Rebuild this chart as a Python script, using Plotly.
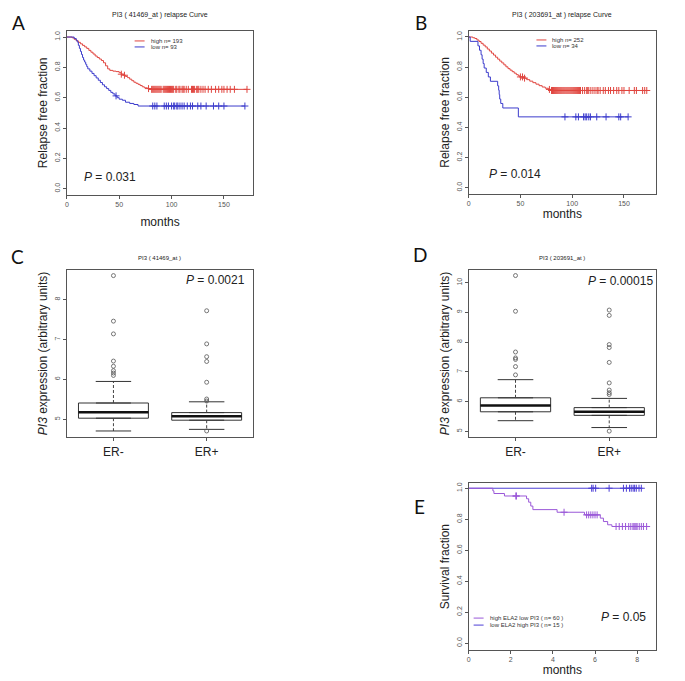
"""PI3 relapse / expression panels (A-E) rebuilt with Plotly."""

import plotly.graph_objects as go

# target picture is 685x681; the page body adds an 8px margin, so the figure is drawn
# 8px smaller and every target pixel is shifted by OFF
OFF = 8
W, H = 685 - OFF, 681 - OFF
FONT = "Liberation Sans, Arial, sans-serif"

# ---- A: PI3 (41469_at) relapse curve ----
a_high_t = [0, 5, 7, 9, 11, 13, 15, 17, 19, 21, 23, 25, 27, 29, 31, 33, 35, 37, 39, 41, 44, 47,
            50, 52, 54, 56, 58, 60, 62, 64, 66, 68, 70, 72, 74, 77, 80]
a_high_s = [1.0, 0.995, 0.985, 0.975, 0.965, 0.955, 0.945, 0.935, 0.925, 0.912, 0.9, 0.888,
            0.875, 0.865, 0.855, 0.845, 0.83, 0.81, 0.79, 0.78, 0.775, 0.772, 0.765, 0.755,
            0.748, 0.74, 0.732, 0.722, 0.712, 0.702, 0.695, 0.688, 0.68, 0.672, 0.665, 0.66, 0.655]
a_high_cens = [52, 55, 78, 81, 82, 83, 84, 85, 86, 87, 88, 89, 90, 92, 93, 94, 95, 96, 97, 98,
               99, 100, 101, 102, 104, 105, 107, 108, 110, 111, 112, 114, 116, 119, 120, 121,
               122, 124, 125, 126, 128, 130, 132, 135, 138, 142, 145, 148, 150, 153, 156, 160, 172]
a_low_t = [0, 7, 9, 10, 11, 12, 13, 14, 15, 16, 17, 18, 19, 20, 22, 24, 26, 28, 30, 32, 34, 36,
           38, 40, 42, 44, 46, 48, 50, 53, 56, 60, 64, 68]
a_low_s = [1.0, 0.99, 0.978, 0.967, 0.945, 0.925, 0.905, 0.885, 0.865, 0.848, 0.835, 0.82,
           0.805, 0.79, 0.775, 0.76, 0.745, 0.73, 0.715, 0.7, 0.685, 0.672, 0.66, 0.648, 0.635,
           0.625, 0.612, 0.6, 0.59, 0.583, 0.57, 0.562, 0.555, 0.545]
a_low_cens = [47, 82, 84, 86, 93, 95, 97, 100, 102, 103, 105, 106, 108, 110, 112, 115, 118, 120,
              125, 128, 133, 140, 145, 150, 170]

# ---- B: PI3 (203691_at) relapse curve ----
b_high_t = [0, 4, 6, 8, 10, 12, 14, 16, 18, 20, 22, 24, 26, 28, 30, 32, 34, 36, 38, 40, 42, 44,
            46, 48, 50, 53, 56, 59, 62, 65, 68, 71, 74, 77, 80]
b_high_s = [1.0, 0.995, 0.99, 0.98, 0.97, 0.958, 0.946, 0.934, 0.92, 0.907, 0.893, 0.88, 0.866,
            0.853, 0.84, 0.828, 0.815, 0.802, 0.79, 0.78, 0.77, 0.76, 0.75, 0.742, 0.735, 0.727,
            0.717, 0.707, 0.697, 0.687, 0.677, 0.668, 0.66, 0.652, 0.645]
b_high_cens = [50, 52, 54, 78, 80, 81, 82, 83, 84, 85, 86, 87, 88, 89, 90, 91, 92, 93, 94, 95,
               96, 97, 98, 99, 100, 101, 102, 103, 104, 105, 106, 107, 108, 110, 112, 114, 115,
               116, 118, 120, 122, 124, 125, 127, 130, 132, 135, 137, 140, 143, 145, 148, 150,
               155, 160, 162, 168, 170, 172]
b_low_t = [0, 1.5, 9, 10.5, 12, 13, 14, 15, 17, 19, 21, 28, 29, 29.5, 30, 31, 33, 48]
b_low_s = [1.0, 0.971, 0.941, 0.912, 0.882, 0.853, 0.824, 0.794, 0.765, 0.735, 0.706, 0.676,
           0.647, 0.618, 0.588, 0.559, 0.529, 0.47]
b_low_cens = [93, 103.5, 106, 111, 112.5, 114, 116, 117.6, 123.7, 132.7, 145, 146.8, 154]

# ---- C / D: expression by ER status (box stats) ----
groups = ["ER-", "ER+"]
c_q1 = [5.03, 4.98]
c_med = [5.18, 5.08]
c_q3 = [5.41, 5.17]
c_lo = [4.71, 4.75]
c_hi = [5.95, 5.44]
c_out = [[8.6, 7.46, 7.14, 6.46, 6.33, 6.22, 6.16, 6.1],
         [7.72, 6.89, 6.57, 6.45, 5.93, 5.51, 5.46, 4.71]]

d_q1 = [5.66, 5.54]
d_med = [5.87, 5.66]
d_q3 = [6.13, 5.8]
d_lo = [5.36, 5.13]
d_hi = [6.74, 6.11]
d_out = [[10.24, 9.04, 7.67, 7.47, 7.42, 7.18, 6.9],
         [9.08, 8.9, 7.92, 7.82, 7.32, 6.63, 6.39, 6.3, 6.24, 5.01]]

# ---- E: survival, ELA2 / PI3 groups ----
e_pur_t = [0, 1.15, 1.2, 1.7, 2.75, 2.85, 2.95, 3.05, 4.2, 5.5, 6.25, 6.4, 6.6, 6.8]
e_pur_s = [1.0, 0.983, 0.966, 0.95, 0.932, 0.91, 0.885, 0.862, 0.845, 0.828, 0.807, 0.785,
           0.764, 0.753]
e_pur_cens = [2.24, 2.27, 4.53, 5.6, 5.7, 5.8, 5.9, 6.0, 6.1, 7.0, 7.15, 7.3, 7.45, 7.6, 7.7,
              7.8, 7.85, 7.9, 7.95, 8.0, 8.1, 8.2, 8.3, 8.45]
e_blu_t = [0]
e_blu_s = [1.0]
e_blu_cens = [5.84, 5.91, 6.03, 6.67, 7.35, 7.49, 7.64, 7.72, 7.81, 7.88, 7.96, 8.09, 8.2]

RED = "#e0453f"
BLUE = "#3c3ccc"
PURPLE = "#9a58d8"
BLUE_E = "#4d3fd6"


def surv_at(t, times, surv):
    s = surv[0]
    for ti, si in zip(times, surv):
        if ti <= t:
            s = si
    return s


def dom_x(left, right):
    return [(left - OFF) / W, (right - OFF) / W]


def dom_y(top, bottom):
    return [1 - (bottom - OFF) / H, 1 - (top - OFF) / H]


fig = go.Figure()


def add_km(times, surv, cens, color, ax):
    end = max(cens[-1], times[-1])
    fig.add_trace(go.Scatter(
        x=times + [end], y=surv + [surv[-1]], mode="lines", line_shape="hv",
        line=dict(color=color, width=1), xaxis="x" + ax, yaxis="y" + ax,
        showlegend=False, hoverinfo="skip",
    ))
    fig.add_trace(go.Scatter(
        x=cens, y=[surv_at(c, times, surv) for c in cens], mode="markers",
        marker=dict(symbol="cross-thin-open", size=5, color=color,
                    line=dict(color=color, width=1)),
        xaxis="x" + ax, yaxis="y" + ax, showlegend=False, hoverinfo="skip",
    ))


def add_boxes(q1, med, q3, lo, hi, outs, ax):
    for i, g in enumerate(groups):
        pos = i + 1
        fig.add_trace(go.Box(
            x=[pos], q1=[q1[i]], median=[med[i]], q3=[q3[i]],
            lowerfence=[q1[i]], upperfence=[q3[i]], width=0.75,
            line=dict(color="#333333", width=1), fillcolor="white",
            boxpoints=False, xaxis="x" + ax, yaxis="y" + ax, showlegend=False, name=g,
        ))
        # median (thick), whiskers (dashed) and staples
        fig.add_trace(go.Scatter(
            x=[pos - 0.375, pos + 0.375], y=[med[i], med[i]], mode="lines",
            line=dict(color="#111111", width=2.4), xaxis="x" + ax, yaxis="y" + ax,
            showlegend=False, hoverinfo="skip",
        ))
        fig.add_trace(go.Scatter(
            x=[pos, pos, None, pos, pos], y=[q3[i], hi[i], None, q1[i], lo[i]], mode="lines",
            line=dict(color="#444444", width=1, dash="3px,2px"), xaxis="x" + ax, yaxis="y" + ax,
            showlegend=False, hoverinfo="skip",
        ))
        fig.add_trace(go.Scatter(
            x=[pos - 0.19, pos + 0.19, None, pos - 0.19, pos + 0.19],
            y=[hi[i], hi[i], None, lo[i], lo[i]], mode="lines",
            line=dict(color="#333333", width=1), xaxis="x" + ax, yaxis="y" + ax,
            showlegend=False, hoverinfo="skip",
        ))
        fig.add_trace(go.Scatter(
            x=[pos] * len(outs[i]), y=outs[i], mode="markers",
            marker=dict(symbol="circle-open", size=4, color="#555555",
                        line=dict(color="#555555", width=0.8)),
            xaxis="x" + ax, yaxis="y" + ax, showlegend=False, hoverinfo="skip",
        ))


add_km(a_high_t, a_high_s, a_high_cens, RED, "")
add_km(a_low_t, a_low_s, a_low_cens, BLUE, "")
add_km(b_high_t, b_high_s, b_high_cens, RED, "2")
add_km(b_low_t, b_low_s, b_low_cens, BLUE, "2")
add_boxes(c_q1, c_med, c_q3, c_lo, c_hi, c_out, "3")
add_boxes(d_q1, d_med, d_q3, d_lo, d_hi, d_out, "4")
add_km(e_blu_t, e_blu_s, e_blu_cens, BLUE_E, "5")
add_km(e_pur_t, e_pur_s, e_pur_cens, PURPLE, "5")

tickfont = dict(family=FONT, size=7, color="#555555")
frame = dict(showline=True, mirror=True, linecolor="#555555", linewidth=1, showgrid=False,
             zeroline=False, ticks="outside", ticklen=3, tickcolor="#555555", tickfont=tickfont)
title_font = dict(family=FONT, size=12, color="#222222")


def xax(dom, rng, tickvals, title, standoff=6, ticktext=None, tfont=None):
    d = dict(frame, domain=dom, range=rng, tickvals=tickvals)
    if ticktext:
        d["ticktext"] = ticktext
    if tfont:
        d["tickfont"] = tfont
    if title:
        d["title"] = dict(text=title, font=title_font, standoff=standoff)
    return d


def yax(dom, rng, tickvals, ticktext, title):
    return dict(frame, domain=dom, range=rng, tickvals=tickvals, ticktext=ticktext,
                tickangle=-90, title=dict(text=title, font=title_font, standoff=3))


surv_ticks = [0, 0.2, 0.4, 0.6, 0.8, 1.0]
surv_text = ["0.0", "0.2", "0.4", "0.6", "0.8", "1.0"]
er_font = dict(family=FONT, size=12, color="#222222")

fig.update_layout(
    width=W, height=H, margin=dict(l=0, r=0, t=0, b=0),
    paper_bgcolor="white", plot_bgcolor="white", font=dict(family=FONT),
    xaxis=dict(xax(dom_x(65, 252), [0, 178], [0, 50, 100, 150], "months", 10), anchor="y"),
    yaxis=dict(yax(dom_y(30, 194), [-0.04, 1.04], surv_ticks, surv_text,
                   "Relapse free fraction"), anchor="x"),
    xaxis2=dict(xax(dom_x(468, 656), [0, 181], [0, 50, 100, 150], "months", 3), anchor="y2"),
    yaxis2=dict(yax(dom_y(30, 193), [-0.04, 1.04], surv_ticks, surv_text,
                    "Relapse free fraction"), anchor="x2"),
    xaxis3=dict(xax(dom_x(65, 252), [0.5, 2.5], [1, 2], None, 6, groups, er_font), anchor="y3"),
    yaxis3=dict(yax(dom_y(269, 437), [4.55, 8.75], [5, 6, 7, 8], ["5", "6", "7", "8"],
                    "<i>PI3</i> expression (arbitrary units)"), anchor="x3"),
    xaxis4=dict(xax(dom_x(468, 656), [0.5, 2.5], [1, 2], None, 6, groups, er_font), anchor="y4"),
    yaxis4=dict(yax(dom_y(269, 437), [4.8, 10.44], [5, 6, 7, 8, 9, 10],
                    ["5", "6", "7", "8", "9", "10"],
                    "<i>PI3</i> expression (arbitrary units)"), anchor="x4"),
    xaxis5=dict(xax(dom_x(468, 656), [0, 8.9], [0, 2, 4, 6, 8], "months", 1), anchor="y5"),
    yaxis5=dict(yax(dom_y(483, 650), [-0.045, 1.032], surv_ticks, surv_text,
                    "Survival fraction"), anchor="x5"),
)


def note(x, y, text, size, xanchor="center", color="#222222", yanchor="middle"):
    fig.add_annotation(x=(x - OFF) / W, y=1 - (y - OFF) / H, xref="paper", yref="paper",
                       text=text, showarrow=False, xanchor=xanchor, yanchor=yanchor,
                       font=dict(family=FONT, size=size, color=color))


# panel letters (A and B hang from the top edge)
LETTER_FONT = "Lato, Liberation Sans, sans-serif"
for letter, lx, ly, anchor in [("A", 17, 8, "top"), ("B", 420, 8, "top"),
                               ("C", 16, 256, "middle"), ("D", 419, 254, "middle"),
                               ("E", 419, 506, "middle")]:
    fig.add_annotation(x=(lx - OFF) / W, y=1 - (ly - OFF) / H, xref="paper", yref="paper",
                       text=letter, showarrow=False, xanchor="center", yanchor=anchor,
                       font=dict(family=LETTER_FONT, size=19, color="#111111"))

# panel titles
note(158, 14, "PI3 ( 41469_at ) relapse Curve", 7)
note(562, 14, "PI3 ( 203691_at ) relapse Curve", 7)
note(158, 257, "PI3 ( 41469_at )", 6)
note(562, 257, "PI3 ( 203691_at )", 6)

# p-values
note(80, 176, "<i>P</i> = 0.031", 12, "left")
note(486, 173, "<i>P</i> = 0.014", 12, "left")
note(183, 279, "<i>P</i> = 0.0021", 12, "left")
note(586, 280, "<i>P</i> = 0.00015", 12, "left")
note(599, 617, "<i>P</i> = 0.05", 12, "left")

# legends
for lx, ly, color, text in [(133, 40, RED, "high n= 193"), (133, 46, BLUE, "low n= 93"),
                            (536, 39, RED, "high n= 252"), (536, 45, BLUE, "low n= 34"),
                            (473, 618, PURPLE, "high ELA2 low PI3 ( n= 60 )"),
                            (473, 625, BLUE_E, "low ELA2 high PI3 ( n= 15 )")]:
    fig.add_shape(type="line", xref="paper", yref="paper", x0=(lx - OFF) / W,
                  x1=(lx + 10 - OFF) / W, y0=1 - (ly - OFF) / H, y1=1 - (ly - OFF) / H,
                  line=dict(color=color, width=1))
    note(lx + 14, ly, text, 6, "left", "#333333")

fig.write_html("out.html")
